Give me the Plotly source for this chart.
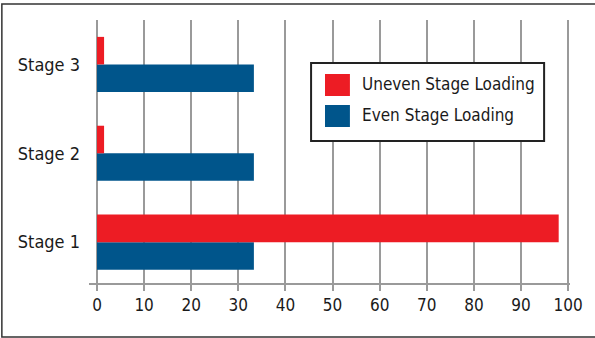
import plotly.graph_objects as go

categories = ["Stage 1", "Stage 2", "Stage 3"]
even_loading = [33.3, 33.3, 33.3]
uneven_loading = [98.0, 1.5, 1.5]
x_ticks = [0, 10, 20, 30, 40, 50, 60, 70, 80, 90, 100]
series_names = ["Uneven Stage Loading", "Even Stage Loading"]

RED = "#ED1C24"
BLUE = "#00558B"
GRID = "#9a9a9a"
TXT = "#1a1a1a"
FONT = "DejaVu Sans Condensed, Liberation Sans Narrow, sans-serif"

W, H = 595, 338
ML, MR, MT, MB = 89, 23, 20, 55
PW, PH = W - ML - MR, H - MT - MB


def px(x):
    return (x - ML) / PW


def py(y):
    return (H - MB - y) / PH


fig = go.Figure()
fig.add_trace(go.Bar(y=categories, x=even_loading, orientation="h", name=series_names[1],
                     marker=dict(color=BLUE, line=dict(width=0)), showlegend=False))
fig.add_trace(go.Bar(y=categories, x=uneven_loading, orientation="h", name=series_names[0],
                     marker=dict(color=RED, line=dict(width=0)), showlegend=False))

shapes = [
    # outer frame (right side runs off the canvas)
    dict(type="rect", xref="paper", yref="paper", x0=px(1.5), x1=px(640), y0=py(337), y1=py(4),
         line=dict(color="#333333", width=1.5), fillcolor="rgba(0,0,0,0)", layer="below"),
    # legend box
    dict(type="rect", xref="paper", yref="paper", x0=px(312), x1=px(546), y0=py(141), y1=py(63),
         line=dict(color="#222222", width=2), fillcolor="white", layer="above"),
    dict(type="rect", xref="paper", yref="paper", x0=px(326), x1=px(351), y0=py(96), y1=py(74),
         line=dict(width=0), fillcolor=RED, layer="above"),
    dict(type="rect", xref="paper", yref="paper", x0=px(326), x1=px(351), y0=py(127), y1=py(105),
         line=dict(width=0), fillcolor=BLUE, layer="above"),
]
annotations = [
    dict(text=series_names[0], xref="paper", yref="paper", x=px(361), y=py(84), xanchor="left",
         yanchor="middle", showarrow=False, font=dict(family=FONT, size=17, color=TXT)),
    dict(text=series_names[1], xref="paper", yref="paper", x=px(361), y=py(115), xanchor="left",
         yanchor="middle", showarrow=False, font=dict(family=FONT, size=17, color=TXT)),
]

fig.update_layout(
    width=W, height=H,
    margin=dict(l=ML, r=MR, t=MT, b=MB, pad=0),
    paper_bgcolor="white", plot_bgcolor="white",
    barmode="group", bargap=0.38, bargroupgap=0,
    font=dict(family=FONT, size=18, color=TXT),
    shapes=shapes, annotations=annotations,
    showlegend=False,
    xaxis=dict(range=[-1.7, 100.4], tickvals=x_ticks, ticktext=[str(v) for v in x_ticks],
               showgrid=True, gridcolor=GRID, gridwidth=2,
               zeroline=True, zerolinecolor=GRID, zerolinewidth=2,
               showline=True, linecolor=GRID, linewidth=2,
               ticks="outside", ticklen=6, tickwidth=2, tickcolor=GRID,
               tickfont=dict(family=FONT, size=17, color=TXT), fixedrange=True),
    yaxis=dict(type="category", range=[-0.46, 2.5], showgrid=False, zeroline=False,
               showline=False, ticks="", ticklabelstandoff=8,
               tickfont=dict(family=FONT, size=18, color=TXT), fixedrange=True),
)

fig.write_html("out.html")
